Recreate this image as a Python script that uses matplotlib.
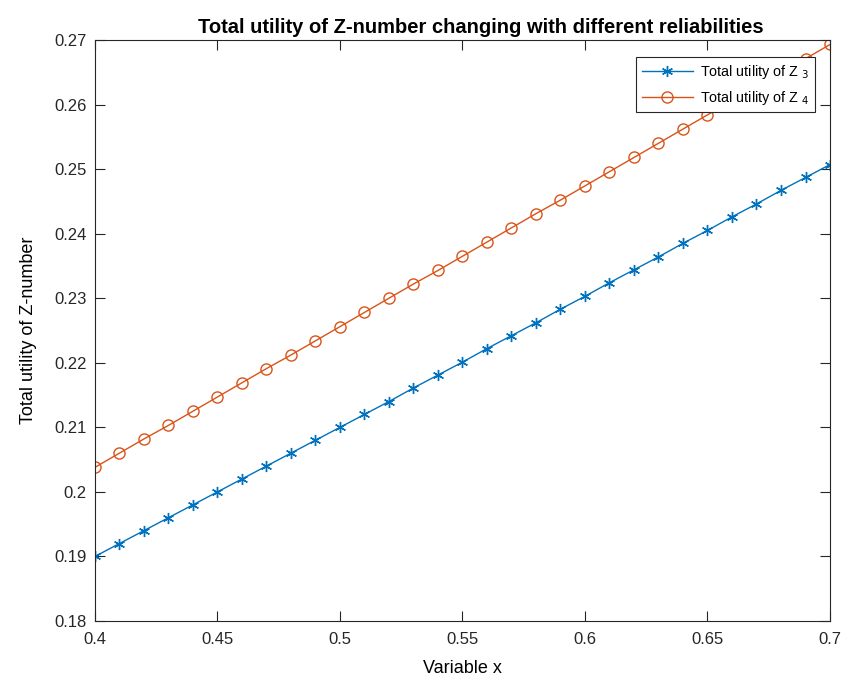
import matplotlib.pyplot as plt
from matplotlib import rcParams

rcParams.update(
    {
        "font.family": ["Liberation Sans", "DejaVu Sans"],
        "font.size": 12,
        "axes.edgecolor": "#262626",
        "xtick.color": "#262626",
        "ytick.color": "#262626",
        "axes.linewidth": 0.8,
    }
)

# data
x = [0.40, 0.41, 0.42, 0.43, 0.44, 0.45, 0.46, 0.47, 0.48, 0.49,
     0.50, 0.51, 0.52, 0.53, 0.54, 0.55, 0.56, 0.57, 0.58, 0.59,
     0.60, 0.61, 0.62, 0.63, 0.64, 0.65, 0.66, 0.67, 0.68, 0.69, 0.70]
z3 = [0.1900, 0.1920, 0.1940, 0.1960, 0.1980, 0.2000, 0.2020, 0.2040, 0.2060, 0.2080,
      0.2100, 0.2120, 0.2140, 0.2161, 0.2181, 0.2201, 0.2222, 0.2242, 0.2262, 0.2283,
      0.2303, 0.2324, 0.2344, 0.2364, 0.2385, 0.2405, 0.2426, 0.2446, 0.2467, 0.2487, 0.2507]
z4 = [0.2038, 0.2060, 0.2082, 0.2103, 0.2125, 0.2147, 0.2169, 0.2191, 0.2212, 0.2234,
      0.2256, 0.2278, 0.2300, 0.2322, 0.2343, 0.2365, 0.2387, 0.2409, 0.2431, 0.2452,
      0.2474, 0.2496, 0.2518, 0.2540, 0.2562, 0.2584, 0.2606, 0.2628, 0.2650, 0.2671, 0.2693]
labels = ["Total utility of Z $_{3}$", "Total utility of Z $_{4}$"]
xticks = [0.4, 0.45, 0.5, 0.55, 0.6, 0.65, 0.7]
yticks = [0.18, 0.19, 0.2, 0.21, 0.22, 0.23, 0.24, 0.25, 0.26, 0.27]

fig = plt.figure(figsize=(8.54, 6.81), dpi=100)
ax = fig.add_axes([0.1112, 0.0881, 0.8607, 0.8532])

ax.plot(x, z3, color="#0072BD", linewidth=1.0, marker=(6, 2, 0),
        markersize=8, markeredgewidth=1.0, label=labels[0])
ax.plot(x, z4, color="#D95319", linewidth=1.0, marker="o",
        markersize=8, markerfacecolor="none", markeredgewidth=1.0, label=labels[1])

ax.set_xlim(0.4, 0.7)
ax.set_ylim(0.18, 0.27)
ax.set_xticks(xticks)
ax.set_xticklabels([f"{t:g}" for t in xticks])
ax.set_yticks(yticks)
ax.set_yticklabels([f"{t:g}" for t in yticks])
ax.tick_params(direction="in", length=7, top=True, right=True, labelsize=12)
ax.tick_params(axis="x", pad=8)
ax.tick_params(axis="y", pad=6)

ax.set_title("Total utility of Z-number changing with different reliabilities",
             fontsize=14.5, fontweight="bold", pad=5, x=0.525)
ax.set_xlabel("Variable x", fontsize=13, labelpad=9)
ax.set_ylabel("Total utility of Z-number", fontsize=13, labelpad=12)

leg = ax.legend(loc="upper right", bbox_to_anchor=(0.9796, 0.9707), borderaxespad=0,
                fontsize=10.4, fancybox=False, framealpha=1, edgecolor="#262626",
                borderpad=0.4, handlelength=3.5, handletextpad=0.5, labelspacing=0.55)
leg.get_frame().set_linewidth(0.8)

plt.savefig("out.png", dpi=100)
